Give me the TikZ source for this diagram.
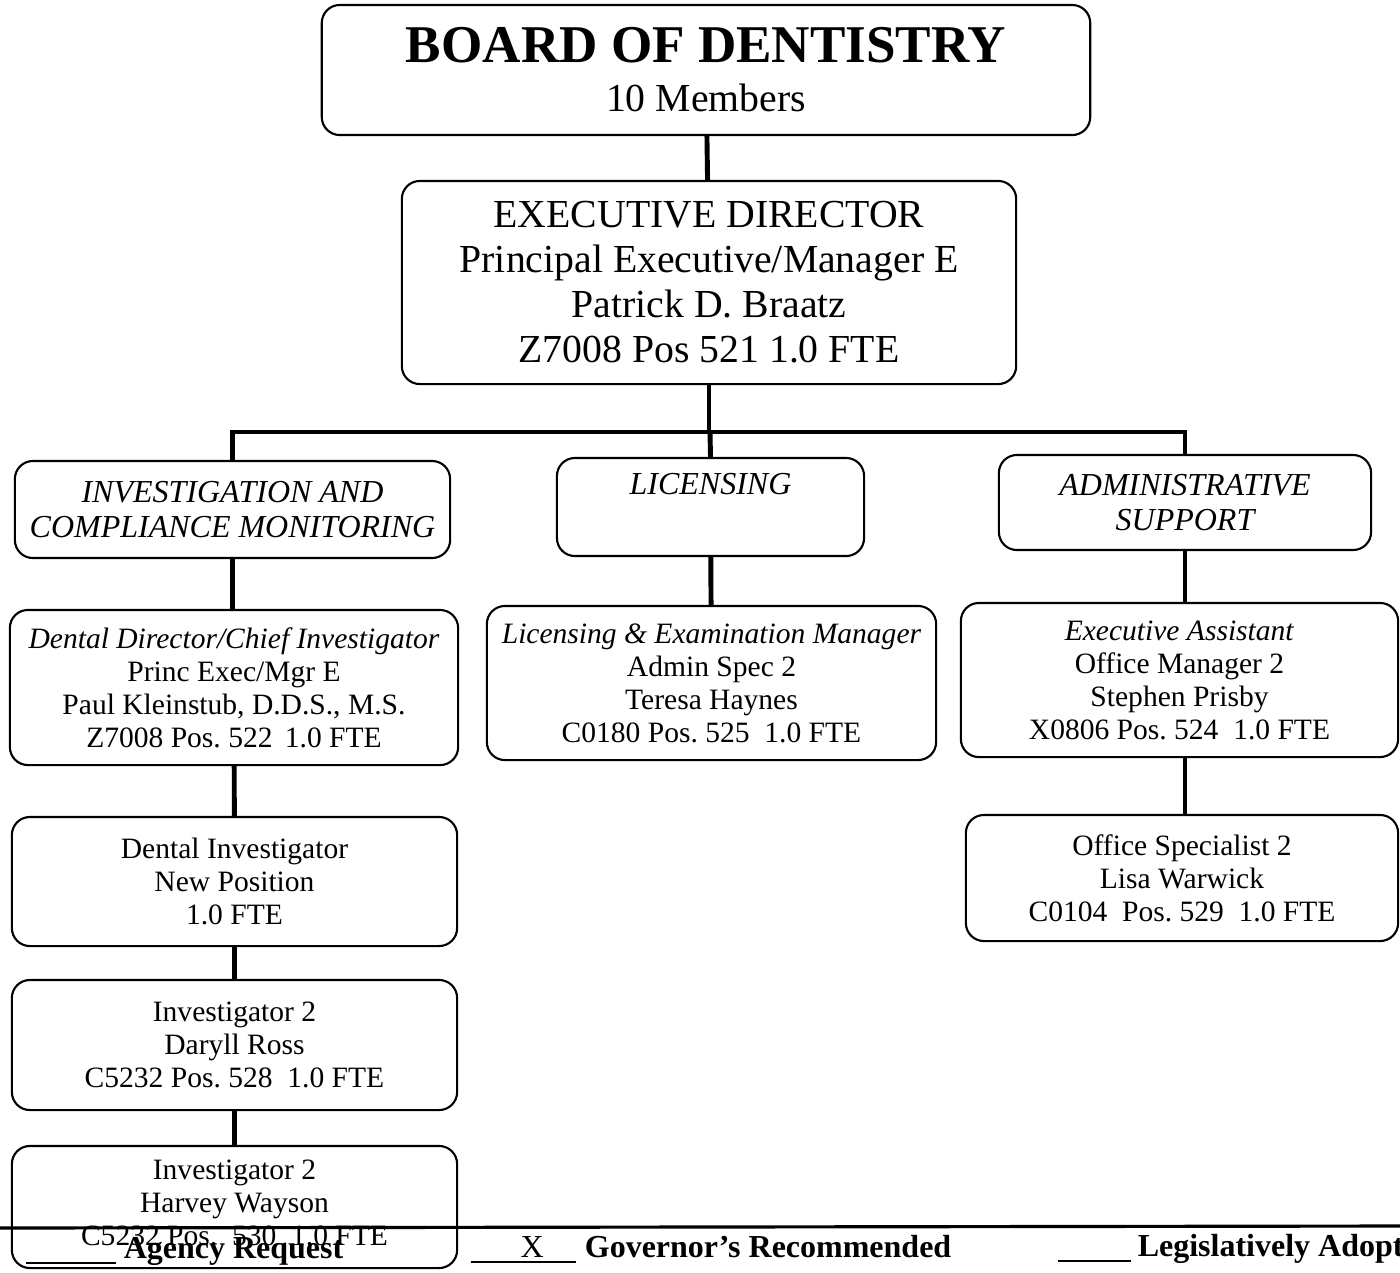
\documentclass[tikz,border=0pt]{standalone}
\usepackage{fontspec}
\setmainfont{Liberation Serif}
\usepackage{tikz}

\begin{document}
\begin{tikzpicture}[x=0.01cm, y=-0.01cm,
    unit/.style={draw, rounded corners=0.18cm, line width=0.6pt, align=center, inner sep=0pt},
    staff/.style={unit, font=\fontsize{8.4}{9.4}\selectfont},
    section/.style={unit, font=\fontsize{9.1}{10.2}\selectfont\itshape},
    top/.style={unit, font=\fontsize{11.3}{12.8}\selectfont},
    link/.style={line width=1.4pt},
    foot/.style={anchor=base west, inner sep=0pt, font=\fontsize{9.1}{10}\selectfont\bfseries}]
  \useasboundingbox (0,0) rectangle (1400,1272);
  \clip (0,0) rectangle (1400,1272);
    \node [top, minimum width=7.68cm, minimum height=1.30cm] (board) at (706, 70)
      {{\fontsize{15.1}{17}\selectfont\bfseries BOARD OF DENTISTRY}\\[0.04cm] 10 Members};
    \node [top, minimum width=6.14cm, minimum height=2.03cm] (exec) at (709, 282.5)
      {EXECUTIVE DIRECTOR\\ Principal Executive/Manager E\\ Patrick D. Braatz\\ Z7008 Pos 521 1.0 FTE};
    \node [section, minimum width=4.35cm, minimum height=0.97cm] (invest) at (232.5, 509.5)
      {INVESTIGATION AND\\ COMPLIANCE MONITORING};
    \node [section, minimum width=3.07cm, minimum height=0.98cm] (licens) at (710.5, 507)
      {LICENSING\\ \strut};
    \node [section, minimum width=3.72cm, minimum height=0.95cm] (admin) at (1185, 502.5)
      {ADMINISTRATIVE\\ SUPPORT};
    \node [staff, minimum width=4.48cm, minimum height=1.55cm] (dentdir) at (234, 687.5)
      {\textit{Dental Director/Chief Investigator}\\ Princ Exec/Mgr E\\ Paul Kleinstub, D.D.S., M.S.\\ Z7008 Pos.\ 522 \,1.0 FTE};
    \node [staff, minimum width=4.49cm, minimum height=1.54cm] (licmgr) at (711.5, 683)
      {\textit{Licensing \& Examination Manager}\\ Admin Spec 2\\ Teresa Haynes\\ C0180 Pos.\ 525 \ 1.0 FTE};
    \node [staff, minimum width=4.37cm, minimum height=1.54cm] (execasst) at (1179.5, 680)
      {\textit{Executive Assistant}\\ Office Manager 2\\ Stephen Prisby\\ X0806 Pos.\ 524 \ 1.0 FTE};
    \node [staff, minimum width=4.45cm, minimum height=1.29cm] (dentinv) at (234.5, 881.5)
      {Dental Investigator\\ New Position\\ 1.0 FTE};
    \node [staff, minimum width=4.32cm, minimum height=1.26cm] (offspec) at (1182, 878)
      {Office Specialist 2\\ Lisa Warwick\\ C0104 \ Pos.\ 529 \ 1.0 FTE};
    \node [staff, minimum width=4.45cm, minimum height=1.30cm] (ross) at (234.5, 1045)
      {Investigator 2\\ Daryll Ross\\ C5232 Pos.\ 528 \ 1.0 FTE};
    \node [staff, minimum width=4.45cm, minimum height=1.22cm] (wayson) at (234.5, 1207)
      {Investigator 2\\ Harvey Wayson\\ C5232 Pos.\ \ 530 \ 1.0 FTE\\[-7pt]\mbox{}};
    \coordinate (bus) at (710, 432);
    \draw [link] (board) -- (exec);
    \draw [link] (exec.south) -- (exec.south |- bus);
    \draw [link] (invest.north) |- (bus) -| (admin.north);
    \draw [link] (bus) -- (licens.north);
    \draw [link] (invest.south) -- (invest.south |- dentdir.north);
    \draw [link] (dentdir) -- (dentinv);
    \draw [link] (dentinv) -- (ross);
    \draw [link] (ross) -- (wayson);
    \draw [link] (licens) -- (licmgr);
    \draw [link] (admin.south) -- (admin.south |- execasst.north);
    \draw [link] (admin.south |- execasst.south) -- (admin.south |- offspec.north);
    \coordinate (footL) at (0, 1228);
    \coordinate (footR) at (1400, 1226);
    \draw [line width=0.9pt] (footL) -- (footR);
    \node [foot] (agency) at (25, 1258)
      {\underline{\hspace{0.9cm}}\hspace{0.08cm}Agency Request};
    \node [foot] (governor) at (470, 1257)
      {\underline{\hspace{0.5cm}\mdseries X\hspace{0.32cm}}\hspace{0.09cm}Governor's Recommended};
    \node [foot] (legis) at (1057, 1256)
      {\underline{\hspace{0.73cm}}\hspace{0.07cm}Legislatively Adopted};
  \end{tikzpicture}
\end{document}
